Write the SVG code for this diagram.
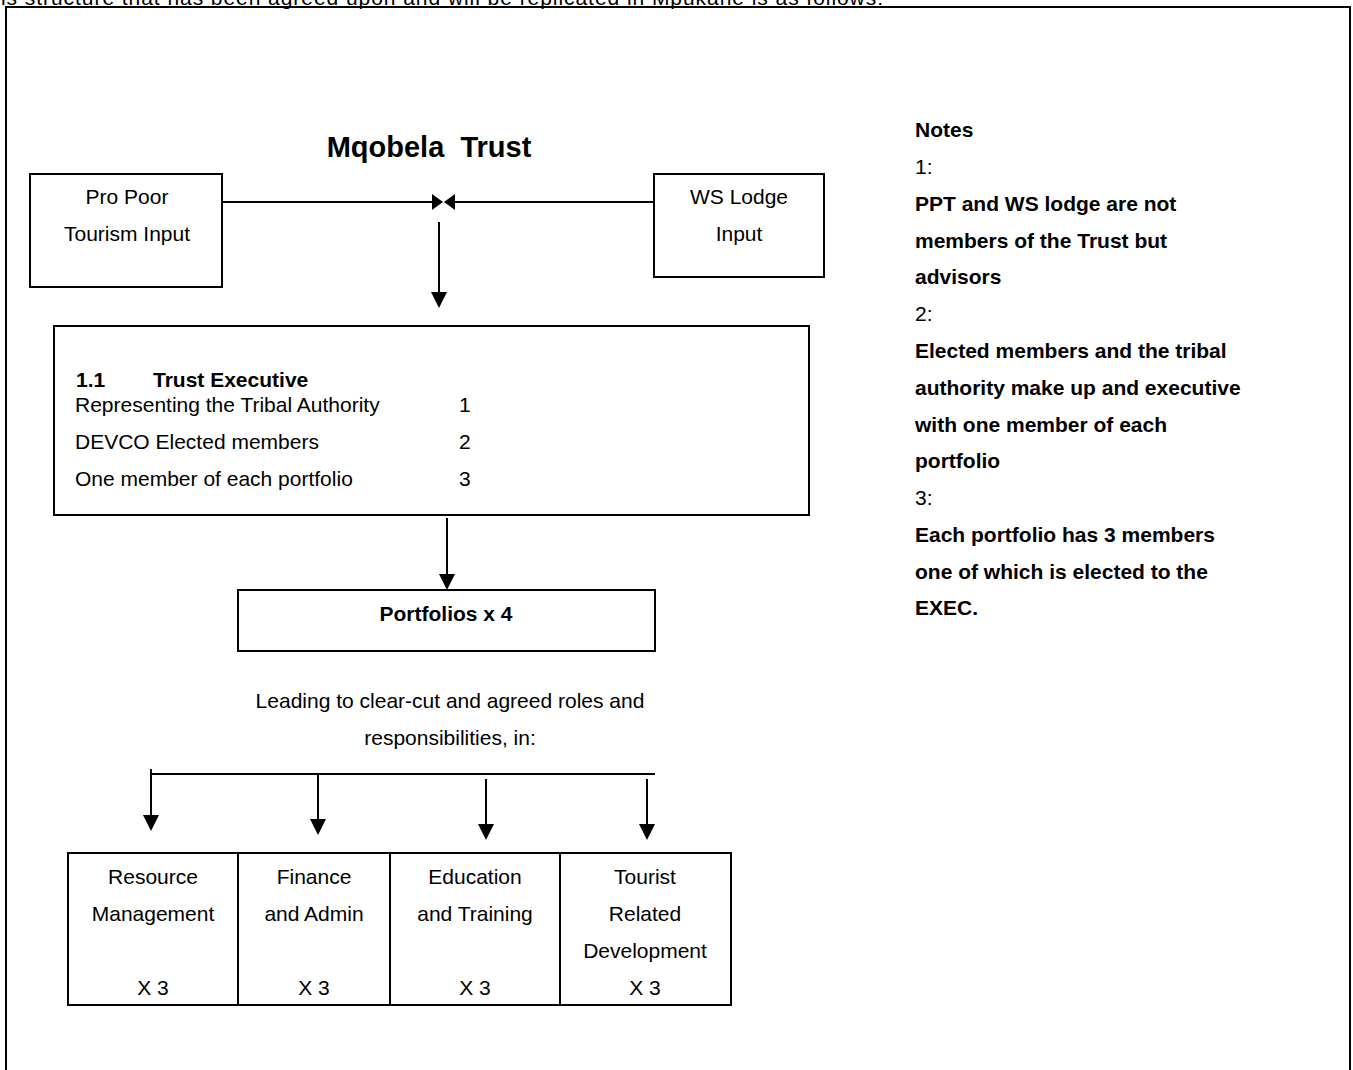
<svg xmlns="http://www.w3.org/2000/svg" width="1353" height="1070" viewBox="0 0 1353 1070">
<style>
text{font-family:"Liberation Sans",Arial,sans-serif;font-size:21px;fill:#000}
.b{font-weight:bold}
.c{text-anchor:middle}
.box{fill:none;stroke:#000;stroke-width:2}
.ln{stroke:#000;stroke-width:2;fill:none}
.ah{fill:#000;stroke:none}
</style>
<rect width="1353" height="1070" fill="#fff"/>
<text x="1" y="5" textLength="882" lengthAdjust="spacing">is structure that has been agreed upon and will be replicated in Mpukane is as follows:</text>
<rect class="box" x="6" y="7" width="1344" height="1100"/>
<text class="b c" x="429" y="157" style="font-size:29px" xml:space="preserve">Mqobela  Trust</text>
<g id="pro-poor">
<rect class="box" x="30" y="174" width="192" height="113"/>
<text class="c" x="127" y="204">Pro Poor</text>
<text class="c" x="127" y="241">Tourism Input</text>
</g>
<g id="ws-lodge">
<rect class="box" x="654" y="174" width="170" height="103"/>
<text class="c" x="739" y="204">WS Lodge</text>
<text class="c" x="739" y="241">Input</text>
</g>
<g id="trust-executive">
<rect class="box" x="54" y="326" width="755" height="189"/>
<text class="b" x="76" y="387">1.1</text>
<text class="b" x="153" y="387">Trust Executive</text>
<text x="75" y="412">Representing the Tribal Authority</text>
<text x="459" y="412">1</text>
<text x="75" y="449">DEVCO Elected members</text>
<text x="459" y="449">2</text>
<text x="75" y="486">One member of each portfolio</text>
<text x="459" y="486">3</text>
</g>
<g id="portfolios">
<rect class="box" x="238" y="590" width="417" height="61"/>
<text class="b c" x="446" y="621">Portfolios x 4</text>
</g>
<g id="leading-text">
<text class="c" x="450" y="708">Leading to clear-cut and agreed roles and</text>
<text class="c" x="450" y="745">responsibilities, in:</text>
</g>
<g id="resource">
<rect class="box" x="68" y="853" width="170" height="152"/>
<text class="c" x="153" y="884">Resource</text>
<text class="c" x="153" y="921">Management</text>
<text class="c" x="153" y="995">X 3</text>
</g>
<g id="finance">
<rect class="box" x="238" y="853" width="152" height="152"/>
<text class="c" x="314" y="884">Finance</text>
<text class="c" x="314" y="921">and Admin</text>
<text class="c" x="314" y="995">X 3</text>
</g>
<g id="education">
<rect class="box" x="390" y="853" width="170" height="152"/>
<text class="c" x="475" y="884">Education</text>
<text class="c" x="475" y="921">and Training</text>
<text class="c" x="475" y="995">X 3</text>
</g>
<g id="tourist">
<rect class="box" x="560" y="853" width="171" height="152"/>
<text class="c" x="645" y="884">Tourist</text>
<text class="c" x="645" y="921">Related</text>
<text class="c" x="645" y="958">Development</text>
<text class="c" x="645" y="995">X 3</text>
</g>
<g id="notes">
<text class="b" x="915" y="137">Notes</text>
<text x="915" y="174">1:</text>
<text class="b" x="915" y="211">PPT and WS lodge are not</text>
<text class="b" x="915" y="248">members of the Trust but</text>
<text class="b" x="915" y="284">advisors</text>
<text x="915" y="321">2:</text>
<text class="b" x="915" y="358">Elected members and the tribal</text>
<text class="b" x="915" y="395">authority make up and executive</text>
<text class="b" x="915" y="432">with one member of each</text>
<text class="b" x="915" y="468">portfolio</text>
<text x="915" y="505">3:</text>
<text class="b" x="915" y="542">Each portfolio has 3 members</text>
<text class="b" x="915" y="579">one of which is elected to the</text>
<text class="b" x="915" y="615">EXEC.</text>
</g>
<g id="connectors">
<line class="ln" x1="222" y1="202" x2="434" y2="202"/>
<polygon class="ah" points="432,194 443,202 432,210"/>
<line class="ln" x1="654" y1="202" x2="453" y2="202"/>
<polygon class="ah" points="455,194 444,202 455,210"/>
<line class="ln" x1="439" y1="222" x2="439" y2="294"/>
<polygon class="ah" points="431,292 447,292 439,308"/>
<line class="ln" x1="447" y1="518" x2="447" y2="576"/>
<polygon class="ah" points="439,574 455,574 447,590"/>
<line class="ln" x1="150" y1="774" x2="655" y2="774"/>
<line class="ln" x1="151" y1="769" x2="151" y2="817"/>
<polygon class="ah" points="143,815 159,815 151,831"/>
<line class="ln" x1="318" y1="774" x2="318" y2="821"/>
<polygon class="ah" points="310,819 326,819 318,835"/>
<line class="ln" x1="486" y1="779" x2="486" y2="826"/>
<polygon class="ah" points="478,824 494,824 486,840"/>
<line class="ln" x1="647" y1="779" x2="647" y2="826"/>
<polygon class="ah" points="639,824 655,824 647,840"/>
</g>
</svg>
